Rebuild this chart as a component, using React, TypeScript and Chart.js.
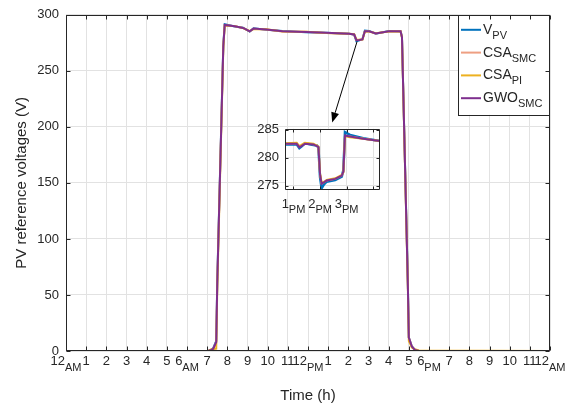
import React, { useEffect, useRef } from 'react';
import { Chart, registerables } from 'chart.js';
Chart.register(...registerables);

const FONT = "'Liberation Sans', Arial, Helvetica, sans-serif";
const TEXT = '#262626';
const GRID = '#e2e2e2';
const AXIS = '#262626';

// Legend / series
const seriesLabel = ['V', 'CSA', 'CSA', 'GWO'];
const seriesSub = ['PV', 'SMC', 'PI', 'SMC'];
const seriesColor = ['#0072BD', '#EE9F82', '#EDB120', '#7E2F8E'];

// Main axis ticks
const hourTicks = [0, 1, 2, 3, 4, 5, 6, 7, 8, 9, 10, 11, 12, 13, 14, 15, 16, 17, 18, 19, 20, 21, 22, 23, 24];
const hourMain = ['12', '1', '2', '3', '4', '5', '6', '7', '8', '9', '10', '11', '12', '1', '2', '3', '4', '5', '6', '7', '8', '9', '10', '11', '12'];
const hourSub = ['AM', '', '', '', '', '', 'AM', '', '', '', '', '', 'PM', '', '', '', '', '', 'PM', '', '', '', '', '', 'AM'];
const voltTicks = [0, 50, 100, 150, 200, 250, 300];

// Main series (time in hours)
const mainTime = [0, 7.05, 7.2, 7.3, 7.45, 7.5, 7.8, 7.87, 8.37, 8.78, 9.11, 9.3, 9.93, 10.74, 11.9, 12.89, 14.04, 14.29, 14.4, 14.55, 14.7, 14.82, 15.03, 15.36, 16.01, 16.59, 16.66, 16.95, 17.0, 17.15, 17.3, 17.5, 24];
const vpv = [0, 0, 1, 2.5, 9, 62, 273, 291.5, 289.5, 288.5, 285, 287.9, 286.6, 285.5, 284.5, 284, 283.2, 282.2, 276.4, 277.2, 278.3, 286, 285.6, 283.1, 285.6, 285.2, 280.5, 62, 12, 4, 1, 0, 0];
const csaSmc = [0, 0, 1, 2, 8, 60, 272, 290.8, 289.8, 288.2, 285.4, 287.5, 286.9, 285.2, 284.8, 283.8, 283.1, 282.5, 277.6, 277.7, 278.1, 285.1, 285.2, 283.4, 285.2, 285.3, 280, 60, 12, 4, 1, 0, 0];
const csaPi = [0, 0, 1.5, 1.5, 2, 55, 270, 290.5, 289.9, 288.1, 285.5, 287.4, 287, 285.1, 284.9, 283.7, 283.1, 282.6, 277.8, 277.8, 277.9, 285, 285.1, 283.5, 285.1, 285.4, 279.6, 58, 9, 3, 1.5, 0.5, 0];
const gwoSmc = [0, 0, 1, 2, 8, 60, 272, 291, 289.7, 288.3, 285.3, 287.7, 286.8, 285.3, 284.7, 283.9, 283, 282.4, 277.4, 277.6, 278, 285.3, 285.3, 283.3, 285.3, 285.3, 280, 60, 12, 4, 1, 0, 0];

// Inset
const insetTime = [12.68, 13.12, 13.22, 13.3, 13.43, 13.75, 13.88, 13.94, 14.0, 14.06, 14.15, 14.25, 14.57, 14.82, 14.88, 14.94, 15.13, 15.63, 16.26];
const insetVpv = [282.4, 282.4, 281.7, 282.0, 282.6, 282.3, 282.2, 281.8, 276.5, 274.5, 275.2, 275.7, 276.0, 276.6, 277.8, 284.6, 284.1, 283.5, 283.0];
const insetCsaSmc = [282.5, 282.6, 282.0, 282.2, 282.6, 282.4, 282.2, 281.9, 277.1, 275.4, 275.7, 275.9, 276.2, 276.8, 277.4, 283.9, 283.8, 283.4, 283.0];
const insetCsaPi = [282.6, 282.7, 282.1, 282.3, 282.7, 282.5, 282.2, 282.0, 277.2, 275.5, 275.6, 276.0, 276.3, 276.9, 277.4, 283.9, 283.7, 283.4, 283.0];
const insetGwoSmc = [282.5, 282.5, 281.9, 282.1, 282.5, 282.4, 282.1, 281.9, 277.0, 275.3, 275.6, 275.9, 276.2, 276.8, 277.5, 284.0, 283.8, 283.4, 283.0];
const insetTicks = [13, 14, 15, 16];
const insetMain = ['1', '2', '3', ''];
const insetSub = ['PM', 'PM', 'PM', ''];
const insetVoltTicks = [275, 280, 285];

// Arrow annotation (data coordinates of main chart)
const arrowFrom = [14.43, 276];
const arrowTo = [13.2, 204];

function drawFrame(chart: any, xTicks: number[], yTicks: number[], tl: number) {
  const { ctx, chartArea: a, scales } = chart;
  const x = scales.x, y = scales.y;
  ctx.save();
  ctx.strokeStyle = AXIS;
  ctx.lineWidth = 1;
  const L = Math.round(a.left) + 0.5, R = Math.round(a.right) - 0.5;
  const T = Math.round(a.top) + 0.5, B = Math.round(a.bottom) - 0.5;
  ctx.beginPath();
  ctx.rect(L, T, R - L, B - T);
  xTicks.forEach((v) => {
    const px = Math.round(x.getPixelForValue(v)) + 0.5;
    ctx.moveTo(px, B); ctx.lineTo(px, B - tl);
    ctx.moveTo(px, T); ctx.lineTo(px, T + tl);
  });
  yTicks.forEach((v) => {
    const py = Math.round(y.getPixelForValue(v)) + 0.5;
    ctx.moveTo(L, py); ctx.lineTo(L + tl, py);
    ctx.moveTo(R, py); ctx.lineTo(R - tl, py);
  });
  ctx.stroke();
  ctx.restore();
}

function drawXLabels(chart: any, ticks: number[], mains: string[], subs: string[], mainSize: number, subSize: number, mainDy: number, subDy: number) {
  const { ctx, chartArea: a, scales } = chart;
  const x = scales.x;
  ctx.save();
  ctx.fillStyle = TEXT;
  ctx.textBaseline = 'alphabetic';
  ctx.textAlign = 'left';
  ticks.forEach((v, i) => {
    const px = x.getPixelForValue(v);
    const mf = `${mainSize}px ${FONT}`;
    const sf = `${subSize}px ${FONT}`;
    ctx.font = mf;
    const w1 = ctx.measureText(mains[i]).width;
    ctx.font = sf;
    const w2 = subs[i] ? ctx.measureText(subs[i]).width : 0;
    const start = px - (w1 + w2) / 2;
    ctx.font = mf;
    ctx.fillText(mains[i], start, a.bottom + mainDy);
    if (subs[i]) {
      ctx.font = sf;
      ctx.fillText(subs[i], start + w1, a.bottom + subDy);
    }
  });
  ctx.restore();
}

function drawLegend(chart: any) {
  const { ctx, chartArea: a } = chart;
  const left = a.right - 92, top = a.top, right = a.right, bottom = a.top + 100;
  ctx.save();
  ctx.fillStyle = '#ffffff';
  ctx.fillRect(left, top, right - left, bottom - top);
  ctx.strokeStyle = AXIS;
  ctx.lineWidth = 1;
  ctx.strokeRect(Math.round(left) + 0.5, Math.round(top) + 0.5, Math.round(right - left) - 1, Math.round(bottom - top));
  seriesLabel.forEach((lab, i) => {
    const ly = top + 15 + i * 22.8;
    ctx.strokeStyle = seriesColor[i];
    ctx.lineWidth = 2;
    ctx.beginPath();
    ctx.moveTo(left + 3, ly);
    ctx.lineTo(left + 23, ly);
    ctx.stroke();
    ctx.fillStyle = TEXT;
    ctx.textAlign = 'left';
    ctx.textBaseline = 'alphabetic';
    ctx.font = `14px ${FONT}`;
    const w = ctx.measureText(lab).width;
    ctx.fillText(lab, left + 25, ly + 4);
    ctx.font = `11px ${FONT}`;
    ctx.fillText(seriesSub[i], left + 25 + w, ly + 9);
  });
  ctx.restore();
}

function drawArrow(chart: any) {
  const { ctx, scales } = chart;
  const x0 = scales.x.getPixelForValue(arrowFrom[0]);
  const y0 = scales.y.getPixelForValue(arrowFrom[1]);
  const x1 = scales.x.getPixelForValue(arrowTo[0]);
  const y1 = scales.y.getPixelForValue(arrowTo[1]);
  const ang = Math.atan2(y1 - y0, x1 - x0);
  const hl = 10, hw = 4;
  const bx = x1 - hl * Math.cos(ang), by = y1 - hl * Math.sin(ang);
  ctx.save();
  ctx.strokeStyle = '#000';
  ctx.lineWidth = 1;
  ctx.beginPath();
  ctx.moveTo(x0, y0);
  ctx.lineTo(bx, by);
  ctx.stroke();
  ctx.fillStyle = '#000';
  ctx.beginPath();
  ctx.moveTo(x1, y1);
  ctx.lineTo(bx + hw * Math.sin(ang), by - hw * Math.cos(ang));
  ctx.lineTo(bx - hw * Math.sin(ang), by + hw * Math.cos(ang));
  ctx.closePath();
  ctx.fill();
  ctx.restore();
}

function makeDatasets(time: number[], series: number[][], widths: number[]) {
  return series.map((d, i) => ({
    label: seriesLabel[i] + seriesSub[i],
    data: time.map((t, j) => ({ x: t, y: d[j] })),
    borderColor: seriesColor[i],
    backgroundColor: seriesColor[i],
    borderWidth: widths[i],
    pointRadius: 0,
    fill: false,
    tension: 0,
    order: series.length - 1 - i,
  }));
}

export default function App() {
  const mainRef = useRef<HTMLCanvasElement>(null);
  const insetRef = useRef<HTMLCanvasElement>(null);

  useEffect(() => {
    document.body.style.margin = '0';
    const mainPlugin = {
      id: 'mainDecor',
      afterDraw(chart: any) {
        drawLegend(chart);
        drawFrame(chart, hourTicks, voltTicks, 4);
        drawXLabels(chart, hourTicks, hourMain, hourSub, 13, 11, 14, 20);
        drawArrow(chart);
      },
    };
    const main = new Chart(mainRef.current as HTMLCanvasElement, {
      type: 'line',
      data: { datasets: makeDatasets(mainTime, [vpv, csaSmc, csaPi, gwoSmc], [2, 2, 2, 2]) as any },
      options: {
        responsive: false,
        animation: false,
        layout: { padding: { left: 0, top: 10, right: 18, bottom: 0 } },
        plugins: { legend: { display: false }, tooltip: { enabled: false } },
        scales: {
          x: {
            type: 'linear',
            min: 0,
            max: 24,
            afterBuildTicks: (s: any) => { s.ticks = hourTicks.map((v) => ({ value: v })); },
            ticks: { display: false },
            grid: { color: GRID, drawTicks: false },
            border: { display: false },
            title: { display: true, text: 'Time (h)', color: TEXT, font: { family: FONT, size: 15 }, padding: { top: 0, bottom: 3 } },
            afterFit: (s: any) => { s.height = 57; },
          },
          y: {
            type: 'linear',
            min: 0,
            max: 300,
            afterBuildTicks: (s: any) => { s.ticks = voltTicks.map((v) => ({ value: v })); },
            ticks: { color: TEXT, font: { family: FONT, size: 13 }, padding: 7 },
            grid: { color: GRID, drawTicks: false },
            border: { display: false },
            title: { display: true, text: 'PV reference voltages (V)', color: TEXT, font: { family: FONT, size: 15 }, padding: { top: 13, bottom: 0 } },
            afterFit: (s: any) => { s.width = 66; },
          },
        },
      } as any,
      plugins: [mainPlugin],
    });

    const insetPlugin = {
      id: 'insetDecor',
      beforeDraw(chart: any) {
        const { ctx, chartArea: a } = chart;
        ctx.save();
        ctx.fillStyle = '#ffffff';
        ctx.fillRect(a.left, a.top, a.right - a.left, a.bottom - a.top);
        ctx.restore();
      },
      afterDraw(chart: any) {
        drawFrame(chart, insetTicks, insetVoltTicks, 3);
        drawXLabels(chart, insetTicks, insetMain, insetSub, 13, 11, 18, 23);
      },
    };
    const inset = new Chart(insetRef.current as HTMLCanvasElement, {
      type: 'line',
      data: { datasets: makeDatasets(insetTime, [insetVpv, insetCsaSmc, insetCsaPi, insetGwoSmc], [2.5, 2, 2, 2]) as any },
      options: {
        responsive: false,
        animation: false,
        layout: { padding: { left: 0, top: 11, right: 10, bottom: 0 } },
        plugins: { legend: { display: false }, tooltip: { enabled: false } },
        scales: {
          x: {
            type: 'linear',
            min: 12.68,
            max: 16.26,
            afterBuildTicks: (s: any) => { s.ticks = insetTicks.map((v) => ({ value: v })); },
            ticks: { display: false },
            grid: { color: GRID, drawTicks: false },
            border: { display: false },
            afterFit: (s: any) => { s.height = 30; },
          },
          y: {
            type: 'linear',
            min: 274.2,
            max: 285.2,
            afterBuildTicks: (s: any) => { s.ticks = insetVoltTicks.map((v) => ({ value: v })); },
            ticks: { color: TEXT, font: { family: FONT, size: 13 }, padding: 6 },
            grid: { color: GRID, drawTicks: false },
            border: { display: false },
            afterFit: (s: any) => { s.width = 35; },
          },
        },
      } as any,
      plugins: [insetPlugin],
    });

    return () => {
      main.destroy();
      inset.destroy();
    };
  }, []);

  return (
    <div style={{ position: 'relative', width: 568, height: 408, background: '#ffffff' }}>
      <canvas ref={mainRef} width={568} height={408} style={{ position: 'absolute', left: 0, top: 0 }} />
      <canvas ref={insetRef} width={140} height={105} style={{ position: 'absolute', left: 250, top: 115 }} />
    </div>
  );
}
